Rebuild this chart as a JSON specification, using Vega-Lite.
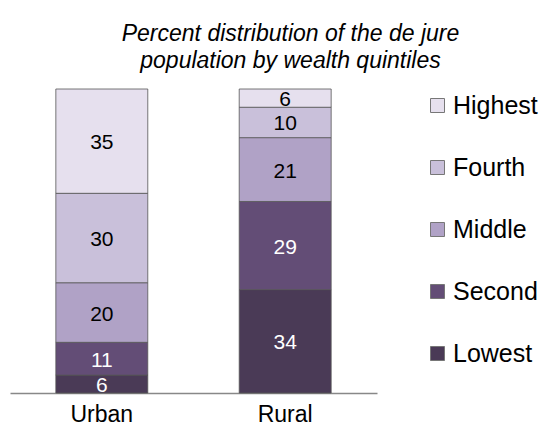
{
  "$schema": "https://vega.github.io/schema/vega-lite/v6.json",
  "autosize": "none",
  "width": 367,
  "height": 304,
  "padding": {"left": 10, "top": 89, "right": 163, "bottom": 39},
  "background": "white",
  "config": {
    "font": "Liberation Sans",
    "view": {"stroke": null}
  },
  "title": {
    "text": ["Percent distribution of the de jure", "population by wealth quintiles"],
    "font": "Liberation Sans",
    "fontSize": 23,
    "fontStyle": "italic",
    "fontWeight": "normal",
    "color": "#000000",
    "anchor": "middle",
    "frame": "group",
    "dx": 97,
    "offset": 16,
    "lineHeight": 27
  },
  "data": {
    "values": [
      {"area": "Urban", "quintile": "Lowest", "value": 6, "rank": 1},
      {"area": "Urban", "quintile": "Second", "value": 11, "rank": 2},
      {"area": "Urban", "quintile": "Middle", "value": 20, "rank": 3},
      {"area": "Urban", "quintile": "Fourth", "value": 30, "rank": 4},
      {"area": "Urban", "quintile": "Highest", "value": 35, "rank": 5},
      {"area": "Rural", "quintile": "Lowest", "value": 34, "rank": 1},
      {"area": "Rural", "quintile": "Second", "value": 29, "rank": 2},
      {"area": "Rural", "quintile": "Middle", "value": 21, "rank": 3},
      {"area": "Rural", "quintile": "Fourth", "value": 10, "rank": 4},
      {"area": "Rural", "quintile": "Highest", "value": 6, "rank": 5}
    ]
  },
  "transform": [
    {"stack": "value", "groupby": ["area"], "sort": [{"field": "rank", "order": "ascending"}], "offset": "normalize", "as": ["y0", "y1"]},
    {"calculate": "(datum.y0 + datum.y1) / 2", "as": "ymid"}
  ],
  "encoding": {
    "x": {
      "field": "area",
      "type": "nominal",
      "sort": ["Urban", "Rural"],
      "scale": {"paddingInner": 0.4986, "paddingOuter": 0.25},
      "axis": {
        "title": null,
        "labelAngle": 0,
        "labelFontSize": 23,
        "labelColor": "#000000",
        "labelPadding": 10,
        "ticks": false,
        "domainColor": "#888888",
        "domainWidth": 1.5,
        "grid": false
      }
    }
  },
  "layer": [
    {
      "mark": {"type": "bar", "stroke": "#555555", "strokeWidth": 0.8},
      "encoding": {
        "y": {"field": "y0", "type": "quantitative", "scale": {"domain": [0, 1]}, "axis": null},
        "y2": {"field": "y1"},
        "color": {
          "field": "quintile",
          "type": "nominal",
          "scale": {
            "domain": ["Highest", "Fourth", "Middle", "Second", "Lowest"],
            "range": ["#E6E0EE", "#C9C0DA", "#B0A2C6", "#634D76", "#4A3A56"]
          },
          "legend": {
            "title": null,
            "orient": "none",
            "legendX": 415,
            "legendY": 4,
            "padding": 0,
            "symbolType": "square",
            "symbolSize": 196,
            "symbolStrokeColor": "#777777",
            "symbolStrokeWidth": 1,
            "symbolOpacity": 1,
            "labelFontSize": 25,
            "labelColor": "#000000",
            "labelOffset": 3,
            "rowPadding": 36
          }
        }
      }
    },
    {
      "mark": {"type": "text", "fontSize": 21, "baseline": "middle", "align": "center", "dy": 2},
      "encoding": {
        "y": {"field": "ymid", "type": "quantitative", "scale": {"domain": [0, 1]}},
        "text": {"field": "value", "type": "quantitative"},
        "color": {
          "condition": {"test": "datum.rank <= 2", "value": "#FFFFFF"},
          "value": "#000000"
        }
      }
    }
  ]
}
